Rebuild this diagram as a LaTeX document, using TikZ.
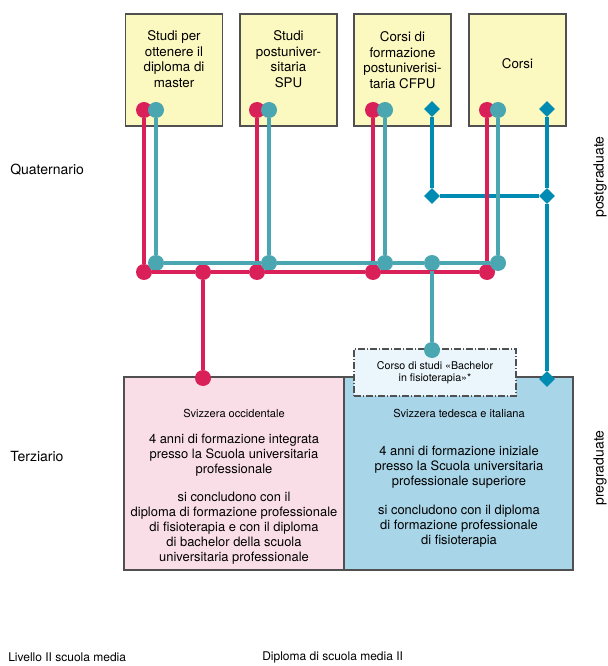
\documentclass[tikz,border=0pt]{standalone}
\usepackage{fontspec}
\setmainfont{TeX Gyre Heros}
\usetikzlibrary{shapes.geometric}

\definecolor{fisred}{RGB}{218,32,88}
\definecolor{fisteal}{RGB}{74,166,176}
\definecolor{fisblue}{RGB}{0,140,178}
\definecolor{boxyellow}{RGB}{251,248,192}
\definecolor{boxpink}{RGB}{250,222,231}
\definecolor{boxblue}{RGB}{169,213,232}
\definecolor{boxpale}{RGB}{234,246,251}
\definecolor{boxline}{RGB}{80,80,80}

\begin{document}
\begin{tikzpicture}[x=0.75pt,y=-0.75pt,
    ybox/.style={rectangle,draw=boxline,fill=boxyellow,line width=0.8pt,minimum width=72.75pt,minimum height=84pt},
    btext/.style={align=center,font=\fontsize{10}{11.6}\selectfont},
    rdot/.style={circle,fill=fisred,inner sep=0pt,minimum size=12pt},
    tdot/.style={circle,fill=fisteal,inner sep=0pt,minimum size=12pt},
    bdia/.style={diamond,fill=fisblue,inner sep=0pt,minimum size=12pt},
    rline/.style={draw=fisred,line width=3pt},
    tline/.style={draw=fisteal,line width=3pt},
    bline/.style={draw=fisblue,line width=3pt},
    small/.style={align=center,font=\fontsize{8.3}{10}\selectfont},
    body/.style={align=center,font=\fontsize{9.7}{11.25}\selectfont},
    side/.style={anchor=west,inner sep=0pt,font=\fontsize{10.5}{12}\selectfont}]

      \useasboundingbox (0,0) rectangle (607,666);

      % postgraduate boxes
      \node[ybox] (master) at (174,70){};
      \node[ybox] (spu) at (288.5,70){};
      \node[ybox] (cfpu) at (402.5,70){};
      \node[ybox] (corsi) at (517.5,70){};
      \node[btext] (tmaster) at (174,59){Studi per\\ottenere il\\diploma di\\master};
      \node[btext] (tspu) at (288.5,59){Studi\\postuniver-\\sitaria\\SPU};
      \node[btext] (tcfpu) at (402.5,60){Corsi di\\formazione\\postuniverisi-\\taria CFPU};
      \node[btext] (tcorsi) at (517.5,64){Corsi};

      % pregraduate boxes
      \node[rectangle,draw=boxline,fill=boxpink,line width=0.9pt,minimum width=165pt,minimum height=144.75pt] (ovest) at (234,473.5){};
      \node[rectangle,draw=boxline,fill=boxblue,line width=0.9pt,minimum width=171.75pt,minimum height=144.75pt] (est) at (458.5,473.5){};
      \node[rectangle,draw=boxline,fill=boxpale,line width=0.8pt,dash pattern=on 5pt off 1.5pt on 1pt off 1.5pt,minimum width=121.5pt,minimum height=35.25pt,align=center,font=\fontsize{8}{9.2}\selectfont] (bachelor) at (435,372.5){Corso di studi «Bachelor\\in fisioterapia»*};

      \node[small] (ovest0) at (234,413){Svizzera occidentale};
      \node[body] (ovest1) at (234,455.5){4 anni di formazione integrata\\presso la Scuola universitaria\\professionale};
      \node[body] (ovest2) at (234,528){si concludono con il\\diploma di formazione professionale\\di fisioterapia e con il diploma\\di bachelor della scuola\\universitaria professionale};
      \node[small] (est0) at (459,413){Svizzera tedesca e italiana};
      \node[body] (est1) at (459,467.5){4 anni di formazione iniziale\\presso la Scuola universitaria\\professionale superiore};
      \node[body] (est2) at (459,526.5){si concludono con il diploma\\di formazione professionale\\di fisioterapia};

      % labels
      \node[side] (quat) at (10,170){Quaternario};
      \node[side] (terz) at (10,456){Terziario};
      \node[side,font=\fontsize{9}{11}\selectfont] (liv) at (8,657){Livello II scuola media};
      \node[side,font=\fontsize{9}{11}\selectfont] (dipl) at (262,657){Diploma di scuola media II};
      \node[rotate=90,font=\fontsize{10.5}{12}\selectfont] (post) at (600,177){postgraduate};
      \node[rotate=90,font=\fontsize{10.5}{12}\selectfont] (pre) at (600,468){pregraduate};

      % dots and diamonds
      \node[rdot] (r1) at (144,110){};
      \node[tdot] (t1) at (156,110){};
      \node[rdot] (r2) at (257,110){};
      \node[tdot] (t2) at (269,110){};
      \node[rdot] (r3) at (373,110){};
      \node[tdot] (t3) at (385,110){};
      \node[bdia] (d1) at (432,109){};
      \node[rdot] (r4) at (487,110){};
      \node[tdot] (t4) at (498,110){};
      \node[bdia] (d4) at (547,109){};

      \node[bdia] (d2) at (432,196){};
      \node[bdia] (d3) at (547,196){};
      \node[bdia] (d5) at (547,379){};

      \node[rdot] (rb1) at (144,272){};
      \node[rdot] (rb2) at (203,272){};
      \node[rdot] (rb3) at (257,272){};
      \node[rdot] (rb4) at (373,272){};
      \node[rdot] (rb5) at (487,272){};
      \node[rdot] (rp) at (203,378){};

      \node[tdot] (tb1) at (156,263){};
      \node[tdot] (tb2) at (269,263){};
      \node[tdot] (tb3) at (385,263){};
      \node[tdot] (tb4) at (432,263){};
      \node[tdot] (tb5) at (498,263){};
      \node[tdot] (tp) at (432,350){};

      % connectors
      \draw[bline] (d1) -- (d2) -- (d3);
      \draw[bline] (d4) -- (d3) -- (d5);

      \draw[rline] (r1) -- (rb1);
      \draw[rline] (r2) -- (rb3);
      \draw[rline] (r3) -- (rb4);
      \draw[rline] (r4) -- (rb5);
      \draw[rline] (rb1) -- (rb2) -- (rb3) -- (rb4) -- (rb5);
      \draw[rline] (rb2) -- (rp);

      \draw[tline] (t1) -- (tb1);
      \draw[tline] (t2) -- (tb2);
      \draw[tline] (t3) -- (tb3);
      \draw[tline] (t4) -- (tb5);
      \draw[tline] (tb1) -- (tb2) -- (tb3) -- (tb4) -- (tb5);
      \draw[tline] (tb4) -- (tp);

    \end{tikzpicture}
\end{document}
